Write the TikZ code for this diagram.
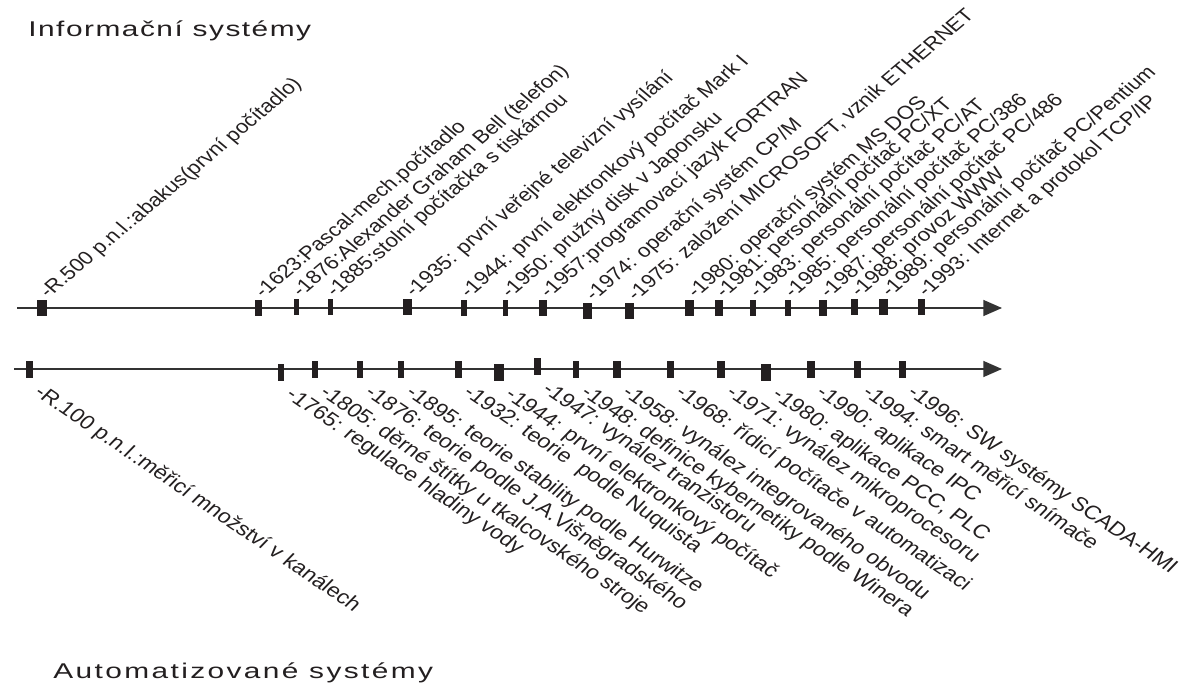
\documentclass[tikz,border=0pt]{standalone}
\usepackage{fontspec}
\setmainfont{Liberation Sans}
\newfontfamily\spacedfont[LetterSpace=8]{Liberation Sans}
\usepackage{tikz}
\usetikzlibrary{arrows.meta,positioning}
\definecolor{ink}{RGB}{35,31,32}
\definecolor{axisgray}{RGB}{51,51,51}

\begin{document}
\begin{tikzpicture}[x=0.75pt,y=-0.75pt,
  every node/.style={text=ink},
  axis/.style={draw=axisgray,line width=1.1pt,-{Triangle[length=14pt,width=12pt]}},
  tick/.style={fill=ink,inner sep=0pt,minimum width=6pt,minimum height=12pt},
  btick/.style={tick,minimum height=12.75pt},
  wide/.style={minimum width=7pt},
  mid/.style={minimum width=5pt},
  thin/.style={minimum width=4pt},
  ilbl/.style={font=\fontsize{14pt}{16pt}\selectfont,inner xsep=1pt,inner ysep=0pt,anchor=base west,xscale=1.19,rotate=45},
  albl/.style={font=\fontsize{14.6pt}{17pt}\selectfont,inner xsep=0pt,inner ysep=0pt,anchor=base west,xscale=1.19,rotate=-39},
  title/.style={font=\spacedfont\fontsize{16pt}{19pt}\selectfont,inner sep=0pt,anchor=base west,xscale=1.4}]
\useasboundingbox (0,0) rectangle (1181,684);

\node[title] (tinf) at (28,37) {\addfontfeature{LetterSpace=5}Informační systémy};
\node[title] (taut) at (53,678) {Automatizované systémy};

% osy
\coordinate (is0) at (17,308);
\coordinate (is1) at (1002,308);
\coordinate (as0) at (14,369);
\coordinate (as1) at (1002,369);
\draw[axis] (is0) -- (is1);
\draw[axis] (as0) -- (as1);

% informacni systemy
\node[tick,wide] (i500) at (42,308) {};
\node[tick,mid] (i1623) at (258.5,308) {};
\node[tick,thin] (i1876) at (296.5,307) {};
\node[tick,thin] (i1885) at (330.5,307) {};
\node[tick,wide] (i1935) at (407.5,307) {};
\node[tick,mid] (i1944) at (464,308) {};
\node[tick,thin] (i1950) at (505.5,308) {};
\node[tick] (i1957) at (543,308) {};
\node[tick,wide] (i1974) at (587.5,311) {};
\node[tick,wide] (i1975) at (629.5,311) {};
\node[tick,wide] (i1980) at (689.5,308) {};
\node[tick] (i1981) at (718.5,308) {};
\node[tick,mid] (i1983) at (753,308) {};
\node[tick,mid] (i1985) at (788,308) {};
\node[tick] (i1987) at (823,308) {};
\node[tick,mid] (i1988) at (854.5,307) {};
\node[tick,wide] (i1989) at (883.5,307) {};
\node[tick,mid] (i1993) at (921.5,307) {};

\node[ilbl] (li500) at (i500.north east) {-R.500 p.n.l.:abakus(první počítadlo)};
\node[ilbl] (li1623) at (i1623.north east) {-1623:Pascal-mech.počítadlo};
\node[ilbl] (li1876) at (i1876.north east) {-1876:Alexander Graham Bell (telefon)};
\node[ilbl] (li1885) at (i1885.north east) {-1885:stolní počítačka s tiskárnou};
\node[ilbl] (li1935) at (i1935.north east) {-1935: první veřejné televizní vysílání};
\node[ilbl] (li1944) at (i1944.north east) {-1944: první elektronkový počítač Mark I};
\node[ilbl] (li1950) at (i1950.north east) {-1950: pružný disk v Japonsku};
\node[ilbl] (li1957) at (i1957.north east) {-1957:programovací jazyk FORTRAN};
\node[ilbl] (li1974) at (i1974.north east) {-1974: operační systém CP/M};
\node[ilbl] (li1975) at (i1975.north east) {-1975: založení MICROSOFT, vznik ETHERNET};
\node[ilbl] (li1980) at (i1980.north east) {-1980: operační systém MS DOS};
\node[ilbl] (li1981) at (i1981.north east) {-1981: personální počítač PC/XT};
\node[ilbl] (li1983) at (i1983.north east) {-1983: personální počítač PC/AT};
\node[ilbl] (li1985) at (i1985.north east) {-1985: personální počítač PC/386};
\node[ilbl] (li1987) at (i1987.north east) {-1987: personální počítač PC/486};
\node[ilbl] (li1988) at (i1988.north east) {-1988: provoz WWW};
\node[ilbl] (li1989) at (i1989.north east) {-1989: personální počítač PC/Pentium};
\node[ilbl] (li1993) at (i1993.north east) {-1993: Internet a protokol TCP/IP};

% automatizovane systemy
\node[btick,mid] (a100) at (29.5,369.5) {};
\node[btick,mid] (a1765) at (281,372) {};
\node[btick,mid] (a1805) at (315,369.5) {};
\node[btick,mid] (a1876) at (360,369.5) {};
\node[btick,mid] (a1895) at (401,369.5) {};
\node[btick,mid] (a1932) at (458.5,369.5) {};
\node[btick,wide] (a1944) at (499,372) {};
\node[btick,mid] (a1947) at (537.5,366.5) {};
\node[btick,mid] (a1948) at (576,369.5) {};
\node[btick] (a1958) at (616.5,369.5) {};
\node[btick,mid] (a1968) at (670.5,369.5) {};
\node[btick] (a1971) at (720.5,369.5) {};
\node[btick,wide] (a1980) at (766,372) {};
\node[btick] (a1990) at (810.5,369.5) {};
\node[btick,mid] (a1994) at (857.5,369.5) {};
\node[btick,mid] (a1996) at (902.5,369.5) {};

\node[albl] (la100) at ([yshift=-12pt]a100.south east) {-R.100 p.n.l.:měřicí množství v kanálech};
\node[albl] (la1765) at ([yshift=-12pt]a1765.south east) {-1765: regulace hladiny vody};
\node[albl] (la1805) at ([yshift=-12pt]a1805.south east) {-1805: děrné štítky u tkalcovského stroje};
\node[albl] (la1876) at ([yshift=-12pt]a1876.south east) {-1876: teorie podle J.A.Višněgradského};
\node[albl] (la1895) at ([yshift=-12pt]a1895.south east) {-1895: teorie stability podle Hurwitze};
\node[albl] (la1932) at ([yshift=-12pt]a1932.south east) {-1932: teorie\ \ podle Nuquista};
\node[albl] (la1944) at ([yshift=-12pt]a1944.south east) {-1944: první elektronkový počítač};
\node[albl] (la1947) at ([yshift=-12pt]a1947.south east) {-1947: vynález tranzistoru};
\node[albl] (la1948) at ([yshift=-12pt]a1948.south east) {-1948: definice kybernetiky podle Winera};
\node[albl] (la1958) at ([yshift=-12pt]a1958.south east) {-1958: vynález integrovaného obvodu};
\node[albl] (la1968) at ([yshift=-12pt]a1968.south east) {-1968: řídicí počítače v automatizaci};
\node[albl] (la1971) at ([yshift=-12pt]a1971.south east) {-1971: vynález mikroprocesoru};
\node[albl] (la1980) at ([yshift=-12pt]a1980.south east) {-1980: aplikace PCC, PLC};
\node[albl] (la1990) at ([yshift=-12pt]a1990.south east) {-1990: aplikace IPC};
\node[albl] (la1994) at ([yshift=-12pt]a1994.south east) {-1994: smart měřicí snímače};
\node[albl] (la1996) at ([yshift=-12pt]a1996.south east) {-1996: SW systémy SCADA-HMI};
\end{tikzpicture}
\end{document}
